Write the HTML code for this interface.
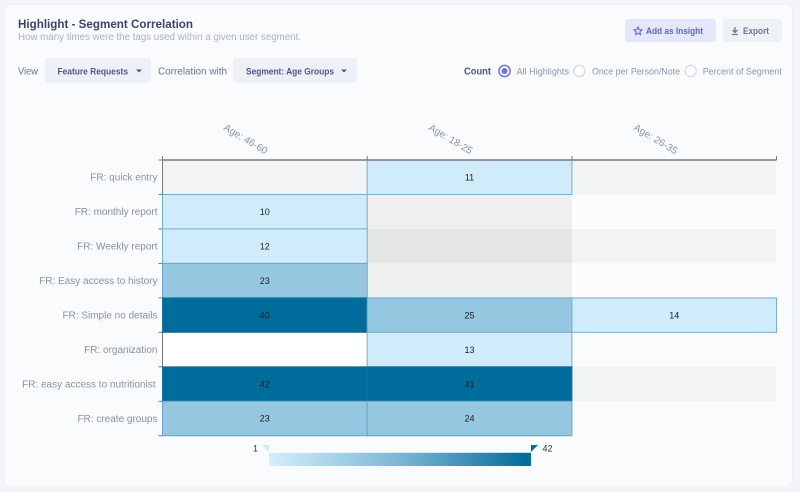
<!DOCTYPE html>
<html><head><meta charset="utf-8">
<style>
*{margin:0;padding:0;box-sizing:border-box}
html,body{width:800px;height:492px;overflow:hidden;background:#f3f5f8}
svg{position:absolute;left:0;top:0;font-family:"Liberation Sans",sans-serif}
</style></head><body>
<svg width="800" height="492" viewBox="0 0 800 492" xmlns="http://www.w3.org/2000/svg">
<defs>
<linearGradient id="cb" x1="0" x2="1" y1="0" y2="0">
<stop offset="0" stop-color="#d3eefc"/>
<stop offset="0.5" stop-color="#7db6d3"/>
<stop offset="1" stop-color="#006a99"/>
</linearGradient>
</defs>
<!-- card -->
<rect x="4.5" y="4.5" width="788" height="482" rx="6" fill="#fafbfd" stroke="#edf0f4"/>

<!-- header -->
<text x="18" y="28" font-size="12" font-weight="bold" fill="#3b4470" textLength="175" lengthAdjust="spacingAndGlyphs">Highlight - Segment Correlation</text>
<text x="18" y="40" font-size="10" fill="#a9b2c3" textLength="283" lengthAdjust="spacingAndGlyphs">How many times were the tags used within a given user segment.</text>

<!-- buttons -->
<rect x="625" y="19" width="91" height="23" rx="3" fill="#e5e7fc"/>
<polygon points="638,27 639.2,29.6 642,29.9 639.9,31.8 640.5,34.6 638,33.2 635.5,34.6 636.1,31.8 634,29.9 636.8,29.6" fill="none" stroke="#5a64d8" stroke-width="1"/>
<text x="646" y="34" font-size="9.5" font-weight="bold" fill="#5a64d8" textLength="57" lengthAdjust="spacingAndGlyphs">Add as Insight</text>
<rect x="723" y="19" width="59" height="23" rx="3" fill="#eef1f6"/>
<path d="M735,27 V32 M732.5,30 L735,32.5 L737.5,30 M732,34.5 H738" stroke="#6b7590" stroke-width="1.3" fill="none"/>
<text x="743" y="34" font-size="9.5" font-weight="bold" fill="#6b7590" textLength="26" lengthAdjust="spacingAndGlyphs">Export</text>

<!-- controls -->
<text x="18" y="74.5" font-size="10.5" fill="#6b7590" textLength="20" lengthAdjust="spacingAndGlyphs">View</text>
<rect x="45" y="58" width="106" height="25" rx="3" fill="#edf1f7"/>
<text x="57.5" y="74.5" font-size="9.5" font-weight="bold" fill="#4d5787" textLength="70.5" lengthAdjust="spacingAndGlyphs">Feature Requests</text>
<polygon points="136,69.5 142,69.5 139,72.5" fill="#4d5787"/>
<text x="158" y="74.5" font-size="10.5" fill="#6b7590" textLength="69" lengthAdjust="spacingAndGlyphs">Correlation with</text>
<rect x="233" y="58" width="124" height="25" rx="3" fill="#edf1f7"/>
<text x="246" y="74.5" font-size="9.5" font-weight="bold" fill="#4d5787" textLength="88" lengthAdjust="spacingAndGlyphs">Segment: Age Groups</text>
<polygon points="341,69.5 347,69.5 344,72.5" fill="#4d5787"/>

<text x="464" y="74.5" font-size="10" font-weight="bold" fill="#4d5787" textLength="27" lengthAdjust="spacingAndGlyphs">Count</text>
<circle cx="504.5" cy="71" r="5.6" fill="#fff" stroke="#6a73e6" stroke-width="1.5"/>
<circle cx="504.5" cy="71" r="3" fill="#6a73e6"/>
<text x="516.5" y="74.5" font-size="9.5" fill="#8c95aa" textLength="52.5" lengthAdjust="spacingAndGlyphs">All Highlights</text>
<circle cx="579.3" cy="71" r="5.6" fill="#fff" stroke="#d3d9e3" stroke-width="1.3"/>
<text x="592" y="74.5" font-size="9.5" fill="#8c95aa" textLength="88" lengthAdjust="spacingAndGlyphs">Once per Person/Note</text>
<circle cx="690.7" cy="71" r="5.6" fill="#fff" stroke="#d3d9e3" stroke-width="1.3"/>
<text x="702.7" y="74.5" font-size="9.5" fill="#8c95aa" textLength="79" lengthAdjust="spacingAndGlyphs">Percent of Segment</text>

<!-- column labels -->
<g font-size="10" fill="#8a94a6" text-anchor="end">
<text transform="translate(265,154.5) rotate(31)">Age: 46-60</text>
<text transform="translate(470,154.5) rotate(31)">Age: 18-25</text>
<text transform="translate(675,154.5) rotate(31)">Age: 26-35</text>
</g>

<!-- background stripes -->
<rect x="162.5" y="160" width="614" height="34.47" fill="#f2f3f3"/>
<rect x="162.5" y="228.94" width="614" height="34.47" fill="#f2f3f3"/>
<rect x="162.5" y="297.88" width="614" height="34.47" fill="#f2f3f3"/>
<rect x="162.5" y="366.82" width="614" height="34.47" fill="#f2f3f3"/>
<rect x="571.9" y="194.47" width="204.6" height="34.47" fill="#fcfcfc"/>
<rect x="571.9" y="263.41" width="204.6" height="34.47" fill="#fcfcfc"/>
<!-- col 2 highlight -->
<rect x="367.2" y="194.47" width="204.7" height="34.47" fill="#efefef"/>
<rect x="367.2" y="228.94" width="204.7" height="34.47" fill="#e4e5e5"/>
<rect x="367.2" y="263.41" width="204.7" height="34.47" fill="#eef0f0"/>
<rect x="162.5" y="332.35" width="204.7" height="34.47" fill="#ffffff"/>

<!-- axes -->
<g stroke="#7a7a7a" stroke-width="1">
<line x1="162.5" y1="160" x2="162.5" y2="436"/>
<line x1="158.5" y1="160" x2="162.5" y2="160"/>
<line x1="158.5" y1="194.47" x2="162.5" y2="194.47"/>
<line x1="158.5" y1="228.94" x2="162.5" y2="228.94"/>
<line x1="158.5" y1="263.41" x2="162.5" y2="263.41"/>
<line x1="158.5" y1="297.88" x2="162.5" y2="297.88"/>
<line x1="158.5" y1="332.35" x2="162.5" y2="332.35"/>
<line x1="158.5" y1="366.82" x2="162.5" y2="366.82"/>
<line x1="158.5" y1="401.29" x2="162.5" y2="401.29"/>
<line x1="158.5" y1="435.76" x2="162.5" y2="435.76"/>
</g>

<!-- cells -->
<g stroke-width="1">
<rect x="367.2" y="160" width="204.7" height="34.47" fill="#d0ecfb" stroke="#74aed0"/>
<rect x="162.5" y="194.47" width="204.7" height="34.47" fill="#d0ecfb" stroke="#74aed0"/>
<rect x="162.5" y="228.94" width="204.7" height="34.47" fill="#d0ecfb" stroke="#74aed0"/>
<rect x="162.5" y="263.41" width="204.7" height="34.47" fill="#95c7e0" stroke="#68a6c9"/>
<rect x="162.5" y="297.88" width="204.7" height="34.47" fill="#006c9c" stroke="#1b6f9c"/>
<rect x="367.2" y="297.88" width="204.7" height="34.47" fill="#95c7e0" stroke="#68a6c9"/>
<rect x="571.9" y="297.88" width="204.6" height="34.47" fill="#d0ecfb" stroke="#74aed0"/>
<rect x="367.2" y="332.35" width="204.7" height="34.47" fill="#d0ecfb" stroke="#74aed0"/>
<rect x="162.5" y="366.82" width="204.7" height="34.47" fill="#006c9c" stroke="#1b6f9c"/>
<rect x="367.2" y="366.82" width="204.7" height="34.47" fill="#006c9c" stroke="#1b6f9c"/>
<rect x="162.5" y="401.29" width="204.7" height="34.47" fill="#95c7e0" stroke="#68a6c9"/>
<rect x="367.2" y="401.29" width="204.7" height="34.47" fill="#95c7e0" stroke="#68a6c9"/>
</g>

<!-- top axis -->
<g stroke="#7a7a7a">
<line x1="162.5" y1="160" x2="776.5" y2="160" stroke-width="1.5"/>
<line x1="162.5" y1="156" x2="162.5" y2="160"/>
<line x1="367.2" y1="156" x2="367.2" y2="160"/>
<line x1="571.9" y1="156" x2="571.9" y2="160"/>
<line x1="776.5" y1="156" x2="776.5" y2="160"/>
</g>

<!-- cell values -->
<g font-size="9" fill="#1f1f1f" text-anchor="middle">
<text x="469.5" y="180.4">11</text>
<text x="264.8" y="214.9">10</text>
<text x="264.8" y="249.4">12</text>
<text x="264.8" y="283.8">23</text>
<text x="264.8" y="318.3">40</text>
<text x="469.5" y="318.3">25</text>
<text x="674.2" y="318.3">14</text>
<text x="469.5" y="352.8">13</text>
<text x="264.8" y="387.3">42</text>
<text x="469.5" y="387.3">41</text>
<text x="264.8" y="421.7">23</text>
<text x="469.5" y="421.7">24</text>
</g>

<!-- row labels -->
<g font-size="10" fill="#8891a5" text-anchor="end">
<text x="157.5" y="180.7">FR: quick entry</text>
<text x="157.5" y="215.2">FR: monthly report</text>
<text x="157.5" y="249.7">FR: Weekly report</text>
<text x="157.5" y="284.1">FR: Easy access to history</text>
<text x="157.5" y="318.6">FR: Simple no details</text>
<text x="157.5" y="353.1">FR: organization</text>
<text x="155.5" y="387.6">FR: easy access to nutritionist</text>
<text x="157.5" y="422">FR: create groups</text>
</g>

<!-- color bar -->
<rect x="269" y="452.5" width="262" height="13.5" fill="url(#cb)"/>
<line x1="269" y1="452.3" x2="531" y2="452.3" stroke="#ffffff" stroke-width="1"/>
<polygon points="262,445 269,445 269,452" fill="#cdeafb"/>
<polygon points="531,445 538,445 531,452" fill="#006c9c"/>
<text x="253" y="451.5" font-size="9" fill="#333">1</text>
<text x="542.5" y="451.5" font-size="9" fill="#333">42</text>
</svg>
</body></html>
